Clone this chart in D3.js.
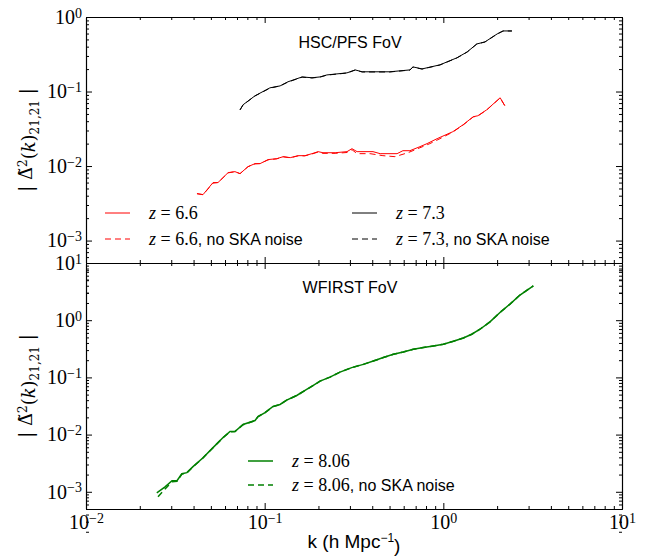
<!DOCTYPE html>
<html>
<head>
<meta charset="utf-8">
<script src="https://cdn.jsdelivr.net/npm/d3@7"></script>
<style>
  body { margin: 0; background: #fff; }
  svg { display: block; }
  .domain { stroke: #000; }
  .tick line { stroke: #000; }
</style>
</head>
<body>
<svg id="chart" width="646" height="559"></svg>
<script>
// k values (h/Mpc) and |Delta^2|
var k66 = [0.0418, 0.0452, 0.0514, 0.0548, 0.0624, 0.0682, 0.0728, 0.0807, 0.0883, 0.0942, 0.1045, 0.117, 0.127, 0.139, 0.154, 0.168, 0.184, 0.199, 0.212, 0.248, 0.289, 0.308, 0.329, 0.404, 0.443, 0.551, 0.594, 0.650, 0.740, 0.811, 0.923, 1.13, 1.29, 1.47, 1.56, 1.75, 2.08, 2.21]
var d66 = [0.00427, 0.00414, 0.0060, 0.0060, 0.00816, 0.00841, 0.00791, 0.00982, 0.01077, 0.01077, 0.0122, 0.01256, 0.01336, 0.01296, 0.01378, 0.01378, 0.01466, 0.0156, 0.0151, 0.0151, 0.0156, 0.0171, 0.0156, 0.0156, 0.01466, 0.01466, 0.01607, 0.01607, 0.0182, 0.0200, 0.0233, 0.0289, 0.0358, 0.0459, 0.0473, 0.0569, 0.0824, 0.0644]
var k66n = [0.0418, 0.0452, 0.0514, 0.0548, 0.0624, 0.0682, 0.0728, 0.0807, 0.0883, 0.0942, 0.1045, 0.117, 0.127, 0.139, 0.154, 0.168, 0.184, 0.199, 0.212, 0.248, 0.289, 0.308, 0.329, 0.389, 0.459, 0.536, 0.634, 0.740, 0.841, 0.982, 1.13, 1.29, 1.47, 1.56, 1.75, 2.08, 2.21]
var d66n = [0.00425, 0.00412, 0.0059, 0.0060, 0.0081, 0.0084, 0.0079, 0.0098, 0.0107, 0.0108, 0.0121, 0.0125, 0.0133, 0.0129, 0.0137, 0.0137, 0.0145, 0.0154, 0.0148, 0.0148, 0.0152, 0.0166, 0.01466, 0.01466, 0.01378, 0.01336, 0.0151, 0.0176, 0.0200, 0.0240, 0.0286, 0.0355, 0.0456, 0.0470, 0.0566, 0.0820, 0.0642]

var k73 = [0.0728, 0.0757, 0.0883, 0.107, 0.122, 0.135, 0.162, 0.184, 0.204, 0.223, 0.289, 0.321, 0.351, 0.502, 0.650, 0.676, 0.760, 0.957, 1.19, 1.36, 1.54, 1.71, 2.00, 2.16, 2.42]
var d73 = [0.0569, 0.0664, 0.0876, 0.112, 0.119, 0.135, 0.157, 0.153, 0.157, 0.167, 0.178, 0.195, 0.184, 0.184, 0.195, 0.214, 0.201, 0.228, 0.283, 0.340, 0.435, 0.463, 0.592, 0.650, 0.650]
var k73n = [0.0728, 0.0757, 0.0883, 0.107, 0.122, 0.135, 0.162, 0.184, 0.204, 0.223, 0.289, 0.321, 0.351, 0.502, 0.650, 0.676, 0.760, 0.957, 1.19, 1.36, 1.54, 1.71, 2.00, 2.16, 2.42]
var d73n = [0.0566, 0.0662, 0.0872, 0.111, 0.119, 0.134, 0.156, 0.152, 0.156, 0.166, 0.177, 0.194, 0.183, 0.183, 0.194, 0.213, 0.200, 0.227, 0.282, 0.339, 0.434, 0.462, 0.591, 0.649, 0.649]

var k806 = [0.0249, 0.0277, 0.0303, 0.0323, 0.0344, 0.0367, 0.0397, 0.0452, 0.0514, 0.0585, 0.064, 0.0682, 0.0757, 0.0883, 0.0918, 0.1005, 0.1114, 0.1219, 0.1328, 0.1511, 0.1718, 0.1872, 0.2041, 0.232, 0.264, 0.307, 0.3565, 0.4055, 0.4613, 0.5248, 0.597, 0.679, 0.773, 0.879, 1.00, 1.138, 1.294, 1.442, 1.604, 1.824, 2.075, 2.361, 2.685, 3.19]
var d806 = [0.00096, 0.00122, 0.00156, 0.00156, 0.00207, 0.00216, 0.00275, 0.00394, 0.00592, 0.00886, 0.0113, 0.0113, 0.0150, 0.0176, 0.0207, 0.0243, 0.031, 0.0336, 0.0400, 0.0483, 0.0615, 0.0724, 0.0861, 0.1012, 0.1239, 0.148, 0.169, 0.193, 0.222, 0.2534, 0.278, 0.310, 0.332, 0.354, 0.379, 0.428, 0.489, 0.568, 0.695, 0.933, 1.365, 1.91, 2.75, 4.0]
var k806n = [0.0253, 0.0277, 0.0303, 0.0323, 0.0344, 0.0367, 0.0397, 0.0452, 0.0514, 0.0585, 0.064, 0.0682, 0.0757, 0.0883, 0.0918, 0.1005, 0.1114, 0.1219, 0.1328, 0.1511, 0.1718, 0.1872, 0.2041, 0.232, 0.264, 0.307, 0.3565, 0.4055, 0.4613, 0.5248, 0.597, 0.679, 0.773, 0.879, 1.00, 1.138, 1.294, 1.442, 1.604, 1.824, 2.075, 2.361, 2.685, 3.19]
var d806n = [0.00082, 0.00112, 0.00150, 0.00153, 0.00204, 0.00214, 0.00273, 0.00392, 0.0059, 0.00884, 0.0112, 0.0113, 0.0149, 0.0175, 0.0206, 0.0242, 0.0309, 0.0335, 0.0399, 0.0482, 0.0614, 0.0723, 0.0860, 0.1011, 0.1238, 0.148, 0.169, 0.193, 0.222, 0.2532, 0.278, 0.310, 0.332, 0.354, 0.379, 0.428, 0.489, 0.568, 0.695, 0.933, 1.365, 1.91, 2.75, 4.0]

var xTicks = [0.01, 0.1, 1, 10]
var topYTicks = [0.001, 0.01, 0.1, 1]
var botYTicks = [0.001, 0.01, 0.1, 1, 10]

var svg = d3.select('#chart')
var left = 86, right = 622
var x = d3.scaleLog().domain([0.01, 10]).range([left, right])
var yTop = d3.scaleLog().domain([5e-4, 1]).range([263, 17])
var yBot = d3.scaleLog().domain([5e-4, 10]).range([509, 263])

var serif = '"Liberation Serif", "DejaVu Serif", serif'
var sans = '"Liberation Sans", Arial, sans-serif'

function minors(lo, hi) {
	var out = []
	for (var e = lo; e < hi; e++)
		for (var m = 2; m <= 9; m++) out.push(m * Math.pow(10, e))
	return out
}

// write 10^n with a raised exponent
function supLabel(sel) {
	sel.each(function(d) {
		var t = d3.select(this)
		var e = Math.round(Math.log10(d))
		t.style('font-family', serif).style('font-size', '20px').attr('fill', '#000')
		t.text('10')
		t.append('tspan').attr('dy', '-0.45em').style('font-size', '14px')
			.text(e < 0 ? '\u2212' + (-e) : e)
	})
}

function drawPanel(y, yMaj, yMin, xLabelsOn) {
	var y0 = y.range()[0], y1 = y.range()[1]
	var g = svg.append('g')

	// minor + major ticks, all four sides, pointing in
	g.append('g').attr('transform', 'translate(' + left + ',0)')
		.call(d3.axisLeft(y).tickValues(yMin).tickSize(-3).tickSizeOuter(0).tickFormat(''))
	g.append('g').attr('transform', 'translate(' + right + ',0)')
		.call(d3.axisRight(y).tickValues(yMin).tickSize(-3).tickSizeOuter(0).tickFormat(''))
	g.append('g').attr('transform', 'translate(0,' + y0 + ')')
		.call(d3.axisBottom(x).tickValues(minors(-2, 1)).tickSize(-3).tickSizeOuter(0).tickFormat(''))
	g.append('g').attr('transform', 'translate(0,' + y1 + ')')
		.call(d3.axisTop(x).tickValues(minors(-2, 1)).tickSize(-3).tickSizeOuter(0).tickFormat(''))

	g.append('g').attr('transform', 'translate(' + left + ',0)')
		.call(d3.axisLeft(y).tickValues(yMaj).tickSize(-6).tickSizeOuter(0).tickPadding(4))
		.selectAll('.tick text').call(supLabel)
	g.append('g').attr('transform', 'translate(' + right + ',0)')
		.call(d3.axisRight(y).tickValues(yMaj).tickSize(-6).tickSizeOuter(0).tickFormat(''))
	var xb = g.append('g').attr('transform', 'translate(0,' + y0 + ')')
		.call(d3.axisBottom(x).tickValues(xTicks).tickSize(-6).tickSizeOuter(0).tickPadding(6))
	if (xLabelsOn) xb.selectAll('.tick text').call(supLabel)
	else xb.selectAll('.tick text').remove()
	g.append('g').attr('transform', 'translate(0,' + y1 + ')')
		.call(d3.axisTop(x).tickValues(xTicks).tickSize(-6).tickSizeOuter(0).tickFormat(''))
	g.selectAll('.domain').attr('stroke-width', 1.1)
}

drawPanel(yTop, topYTicks, minors(-4, 0), false)
drawPanel(yBot, botYTicks, minors(-4, 1), true)

function curve(ks, ds, y, color, width, dash) {
	var line = d3.line().x(function(d) { return x(d[0]) }).y(function(d) { return y(d[1]) })
	svg.append('path')
		.datum(d3.zip(ks, ds))
		.attr('d', line)
		.attr('fill', 'none')
		.attr('stroke', color)
		.attr('stroke-width', width)
		.attr('stroke-dasharray', dash)
}

curve(k66, d66, yTop, '#ff0000', 1, null)
curve(k66n, d66n, yTop, '#ff0000', 1, '6,4')
curve(k73, d73, yTop, '#000000', 1, null)
curve(k73n, d73n, yTop, '#000000', 1, '6,4')
curve(k806, d806, yBot, '#008000', 1.5, null)
curve(k806n, d806n, yBot, '#008000', 1.5, '6,4')

// panel titles
svg.append('text').attr('x', 350).attr('y', 48).attr('text-anchor', 'middle')
	.style('font-family', sans).style('font-size', '16px')
	.text('HSC/PFS FoV')
svg.append('text').attr('x', 350).attr('y', 293).attr('text-anchor', 'middle')
	.style('font-family', sans).style('font-size', '16px')
	.text('WFIRST FoV')

// legends
function legendItem(x0, yy, color, width, dash, zval, suffix) {
	svg.append('line').attr('x1', x0).attr('x2', x0 + 25).attr('y1', yy).attr('y2', yy)
		.attr('stroke', color).attr('stroke-width', width).attr('stroke-dasharray', dash)
	var t = svg.append('text').attr('x', x0 + 44).attr('y', yy + 6)
		.style('font-family', serif).style('font-size', '18px')
	t.append('tspan').style('font-style', 'italic').text('z')
	t.append('tspan').text(' = ' + zval)
	if (suffix) t.append('tspan').style('font-family', sans)
		.style('font-size', '16px').text(suffix)
}
legendItem(105, 213, '#ff0000', 1, null, '6.6', '')
legendItem(105, 239, '#ff0000', 1, '6,4', '6.6', ', no SKA noise')
legendItem(352, 213, '#000000', 1, null, '7.3', '')
legendItem(352, 239, '#000000', 1, '6,4', '7.3', ', no SKA noise')
legendItem(248, 461, '#008000', 1.5, null, '8.06', '')
legendItem(248, 485, '#008000', 1.5, '6,4', '8.06', ', no SKA noise')

// y axis labels
function yLabel(cy) {
	var t = svg.append('text')
		.attr('transform', 'translate(32,' + cy + ') rotate(-90)')
		.attr('text-anchor', 'middle')
		.style('font-family', '"DejaVu Serif", serif').style('font-size', '18px')
	t.append('tspan').text('| \u0394\u0303')
	t.append('tspan').attr('dy', '-0.45em').style('font-size', '12px').text('2')
	t.append('tspan').attr('dy', '0.45em').text('(')
	t.append('tspan').style('font-style', 'italic').text('k')
	t.append('tspan').text(')')
	t.append('tspan').attr('dy', '0.35em').style('font-size', '12px').text('21,21')
	t.append('tspan').attr('dy', '-0.35em').text(' |')
}
yLabel(140)
yLabel(386)

// x axis label
var xl = svg.append('text').attr('x', 354).attr('y', 548).attr('text-anchor', 'middle')
	.style('font-family', sans).style('font-size', '19px')
xl.append('tspan').text('k (h Mpc')
xl.append('tspan').attr('dy', '-0.5em').style('font-size', '12px').text('\u22121')
xl.append('tspan').attr('dy', '0.5em').text(')')
</script>
</body>
</html>
